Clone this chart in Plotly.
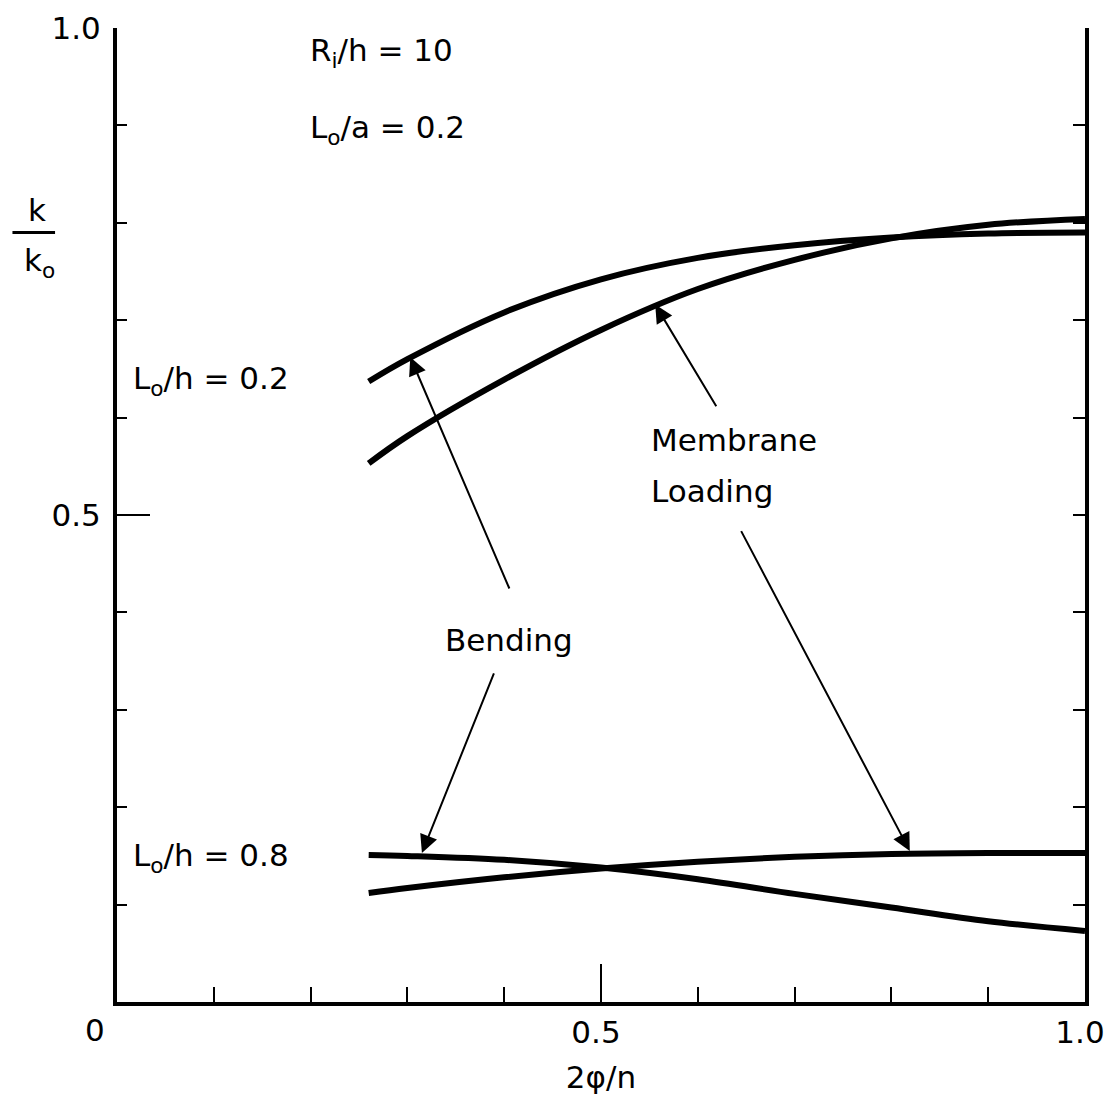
import plotly.graph_objects as go

# ---- data ----
x_vals = [0.26, 0.30, 0.40, 0.50, 0.60, 0.70, 0.80, 0.90, 1.00]

# L0/h = 0.2
bend_02 = [0.637, 0.660, 0.708, 0.742, 0.764, 0.777, 0.785, 0.789, 0.790]
memb_02 = [0.553, 0.581, 0.639, 0.690, 0.732, 0.762, 0.784, 0.798, 0.804]

# L0/h = 0.8
bend_08 = [0.151, 0.150, 0.146, 0.138, 0.126, 0.111, 0.097, 0.083, 0.073]
memb_08 = [0.112, 0.117, 0.128, 0.137, 0.144, 0.149, 0.152, 0.153, 0.153]

x_tick_vals = [0.5, 1.0]
x_tick_text = ["0.5", "1.0"]
y_tick_vals = [0.5, 1.0]
y_tick_text = ["0.5", "1.0"]

FONT = "DejaVu Sans"
FS = 31

fig = go.Figure()
for name, ys in [("Bending, L0/h=0.2", bend_02), ("Membrane, L0/h=0.2", memb_02),
                 ("Bending, L0/h=0.8", bend_08), ("Membrane, L0/h=0.8", memb_08)]:
    fig.add_trace(go.Scatter(x=x_vals, y=ys, mode="lines", name=name,
                             line=dict(color="black", width=6, shape="spline", smoothing=1.0),
                             showlegend=False, hoverinfo="skip"))

# right-hand frame axis (same scale as the left one)
fig.add_trace(go.Scatter(x=x_vals, y=memb_08, yaxis="y2", mode="lines",
                         line=dict(color="rgba(0,0,0,0)", width=0),
                         showlegend=False, hoverinfo="skip"))

fig.update_layout(
    template="none",
    width=1106, height=1087,
    margin=dict(l=109, r=29, t=20, b=93, pad=0),
    paper_bgcolor="white", plot_bgcolor="white",
    font=dict(family=FONT, size=FS, color="black"),
    showlegend=False,
    xaxis=dict(range=[0, 1], showgrid=False, zeroline=False, automargin=False,
               showline=True, linewidth=4, linecolor="black",
               tickmode="array", tickvals=x_tick_vals, ticktext=x_tick_text,
               ticks="inside", ticklen=38, tickwidth=2, tickcolor="black",
               ticklabelshift=-5,
               minor=dict(dtick=0.1, tick0=0, ticks="inside", ticklen=15,
                          tickwidth=2, tickcolor="black", showgrid=False),
               tickfont=dict(family=FONT, size=FS, color="black"),
               title=dict(text="2\u03c6/n", font=dict(family=FONT, size=FS, color="black"),
                          standoff=20)),
    yaxis=dict(range=[0, 1], showgrid=False, zeroline=False, automargin=False,
               showline=True, linewidth=4, linecolor="black",
               tickmode="array", tickvals=y_tick_vals, ticktext=y_tick_text,
               ticks="inside", ticklen=33, tickwidth=2, tickcolor="black",
               ticklabelstandoff=6,
               minor=dict(dtick=0.1, tick0=0, ticks="inside", ticklen=10,
                          tickwidth=2, tickcolor="black", showgrid=False),
               tickfont=dict(family=FONT, size=FS, color="black")),
    yaxis2=dict(range=[0, 1], overlaying="y", side="right", anchor="x",
                showgrid=False, zeroline=False, automargin=False,
                showline=True, linewidth=4, linecolor="black",
                dtick=0.1, tick0=0, ticks="inside", ticklen=12, tickwidth=2,
                tickcolor="black", showticklabels=False),
)

def label(text, x, y, xref="x", yref="y", xanchor="center", **kw):
    fig.add_annotation(x=x, y=y, xref=xref, yref=yref, text=text, showarrow=False,
                       xanchor=xanchor, yanchor="middle",
                       font=dict(family=FONT, size=FS, color="black"), **kw)

# "0" at the origin
label("0", 0, 0, xref="paper", yref="paper", xshift=-22, yshift=-28)

# y-axis label as a fraction k / k_o
label("k", -0.083, 0.813, xref="paper", yref="paper")
label("k<sub>o</sub>", -0.080, 0.759, xref="paper", yref="paper")
fig.add_shape(type="line", xref="paper", yref="paper", x0=-0.108, x1=-0.064,
              y0=0.790, y1=0.790, line=dict(color="black", width=3))

# parameter text
label("R<sub>i</sub>/h = 10", 0.197, 0.975, xanchor="left")
label("L<sub>o</sub>/a = 0.2", 0.197, 0.896, xanchor="left")
label("L<sub>o</sub>/h = 0.2", 0.014, 0.638, xanchor="left")
label("L<sub>o</sub>/h = 0.8", 0.014, 0.148, xanchor="left")

# curve labels
label("Bending", 0.405, 0.372)
label("Membrane", 0.550, 0.577, xanchor="left")
label("Loading", 0.550, 0.525, xanchor="left")

# arrows (head at x,y ; tail at ax,ay)
arrows = [
    (0.303, 0.662, 0.406, 0.423),
    (0.315, 0.153, 0.390, 0.339),
    (0.556, 0.716, 0.620, 0.610),
    (0.819, 0.155, 0.644, 0.485),
]
for hx, hy, tx, ty in arrows:
    fig.add_annotation(x=hx, y=hy, ax=tx, ay=ty, xref="x", yref="y",
                       axref="x", ayref="y", text="", showarrow=True,
                       arrowhead=2, arrowsize=1.8, arrowwidth=2, arrowcolor="black")

fig.write_html("out.html")
